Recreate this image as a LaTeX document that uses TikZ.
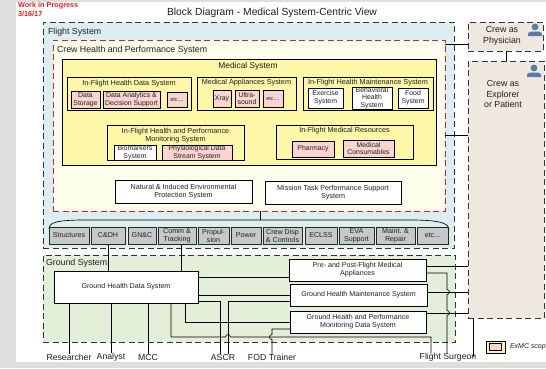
\documentclass[tikz,border=0pt]{standalone}
\usepackage{fontspec}
\setmainfont{Liberation Sans}
\definecolor{bggray}{RGB}{222,222,222}
\definecolor{flightbg}{RGB}{221,238,241}
\definecolor{chpbg}{RGB}{253,253,236}
\definecolor{medbg}{RGB}{253,247,168}
\definecolor{pinkbg}{RGB}{250,212,207}
\definecolor{graybtn}{RGB}{200,200,200}
\definecolor{groundbg}{RGB}{228,239,218}
\definecolor{crewbg}{RGB}{238,232,224}
\definecolor{redd}{RGB}{214,30,50}
\definecolor{iconblue}{RGB}{88,124,165}
\definecolor{wipred}{RGB}{232,30,30}
\newcommand\fsz[2]{\fontsize{#1}{#2}\selectfont}
\newcommand\bx[7]{%
  \pgfmathsetmacro\bxw{#4-#2}%
  \pgfmathsetmacro\bxh{#5-#3}%
  \node[#6,minimum width=\bxw pt,minimum height=\bxh pt] (#1) at ({(#2+#4)/2},{(#3+#5)/2}) {#7};}
\tikzset{
  every node/.style={inner sep=0pt,outer sep=0pt,align=center,text=black!88},
  dashbox/.style={draw=black!80,line width=0.9pt,dash pattern=on 6pt off 3.5pt},
  subbox/.style={draw=black,line width=0.75pt},
  pinkbox/.style={draw=black,line width=0.75pt,fill=pinkbg,font=\fsz{6.9}{7.8}},
  whitebox/.style={draw=black,line width=0.75pt,fill=white,font=\fsz{6.9}{7.8}},
  graybox/.style={draw=black!85,line width=0.75pt,fill=graybtn,font=\fsz{7.1}{8}},
  gbox/.style={draw=black,line width=0.75pt,fill=white,font=\fsz{7.1}{8.2}},
  sublabel/.style={font=\fsz{7.3}{8}},
  biglabel/.style={font=\fsz{8.8}{10},anchor=west},
  extlabel/.style={font=\fsz{8.7}{10}},
  conn/.style={draw=black,line width=0.65pt},
}
\begin{document}
\begin{tikzpicture}[x=1pt,y=-1pt]
\useasboundingbox (0,0) rectangle (546,368);
\fill[bggray] (0,0) rectangle (546,368);
\fill[white] (16,2) rectangle (546,362);

% header
\node[font=\bfseries\fsz{7.3}{9},text=wipred,anchor=north west,align=left] (wip) at (18,2.5) {Work in Progress\\3/16/17};
\node[font=\fsz{10.3}{12}] (title) at (272,13) {Block Diagram - Medical System-Centric View};

% flight system
\bx{flight}{43}{22}{454}{248}{dashbox,fill=flightbg}{}
\node[biglabel] (flightlbl) at (48,32) {Flight System};
\bx{chps}{53}{40}{445}{211}{draw=redd,line width=0.9pt,dash pattern=on 6pt off 3.5pt,fill=chpbg}{}
\node[biglabel] (chpslbl) at (57,50) {Crew Health and Performance System};
\bx{med}{62}{59}{436}{165}{subbox,fill=medbg}{}
\node[font=\fsz{8.4}{10}] (medlbl) at (248,66) {Medical System};

\bx{ifhds}{67}{77}{191}{110}{subbox}{}
\node[sublabel] (ifhdslbl) at (129,84) {In-Flight Health Data System};
\bx{ds}{71}{91}{100}{108}{pinkbox}{Data\\Storage}
\bx{dads}{103}{91}{160}{108}{pinkbox}{Data Analytics \&\\Decision Support}
\bx{etcA}{167}{92}{187}{107}{pinkbox,font=\fsz{5.4}{6}}{etc....}

\bx{mas}{197}{77}{296}{110}{subbox}{}
\node[sublabel] (maslbl) at (246.5,83) {Medical Appliances System};
\bx{xray}{213}{90}{231}{107}{pinkbox}{Xray}
\bx{us}{235}{90}{259}{107}{pinkbox}{Ultra-\\sound}
\bx{etcB}{263}{90}{283}{107}{pinkbox,font=\fsz{5.4}{6}}{etc....}

\bx{ifhms}{303}{77}{433}{110}{subbox}{}
\node[sublabel] (ifhmslbl) at (368,83) {In-Flight Health Maintenance System};
\bx{ex}{308}{88}{343}{108}{whitebox}{Exercise\\System}
\bx{beh}{352}{87}{392}{109}{whitebox,font=\fsz{6.9}{7.3}}{Behavioral\\Health\\System}
\bx{food}{398}{88}{428}{108}{whitebox}{Food\\System}

\bx{ifhpms}{107}{125}{244}{160}{subbox}{}
\node[sublabel] (ifhpmslbl) at (175.5,136) {In-Flight Health and Performance\\Monitoring System};
\bx{bio}{114}{145}{156}{160}{whitebox}{Biomarkers\\System}
\bx{phys}{162}{145}{232}{160}{pinkbox}{Physiological Data\\Stream System}

\bx{ifmr}{276}{125}{413}{159}{subbox}{}
\node[sublabel] (ifmrlbl) at (344.5,131) {In-Flight Medical Resources};
\bx{pharm}{292}{141}{334}{157}{pinkbox}{Pharmacy}
\bx{medc}{343}{140}{394}{157}{pinkbox}{Medical\\Consumables}

\bx{nat}{115}{180}{252}{203}{whitebox,font=\fsz{7.2}{8.2}}{Natural \& Induced Environmental\\Protection System}
\bx{mis}{265}{181}{401}{204}{whitebox,font=\fsz{7.2}{8.2}}{Mission Task Performance Support\\System}

% brace and flight subsystems
\coordinate (bracetop) at (260,220);
\draw[conn] (chps.south -| bracetop) -- (bracetop);
\draw[conn] (49,229) .. controls (49,222) and (58,220.5) .. (80,220) -- (415,220) .. controls (440,220.5) and (449,223) .. (449,230);

\bx{structures}{49}{227}{89}{244}{graybox}{Structures}
\bx{cdh}{91}{227}{125}{244}{graybox}{C\&DH}
\bx{gnc}{128}{227}{156}{244}{graybox}{GN\&C}
\bx{comm}{158}{227}{196}{244}{graybox}{Comm \&\\Tracking}
\bx{prop}{198}{227}{229}{244}{graybox}{Propul-\\sion}
\bx{power}{231}{227}{261}{244}{graybox}{Power}
\bx{crewdisp}{263}{227}{302}{244}{graybox}{Crew Disp\\\& Controls}
\bx{eclss}{305}{227}{337}{244}{graybox}{ECLSS}
\bx{eva}{339}{227}{374}{244}{graybox}{EVA\\Support}
\bx{maint}{376}{227}{415}{244}{graybox}{Maint. \&\\Repair}
\bx{etcC}{417}{227}{448}{244}{graybox}{etc...}

% ground system
\bx{ground}{43}{255}{455}{342}{dashbox,fill=groundbg}{}
\node[biglabel] (groundlbl) at (46,263) {Ground System};
\bx{ghds}{54}{271}{198}{303}{gbox}{Ground Health Data System}
\bx{pre}{289}{259}{426}{281}{gbox}{Pre- and Post-Flight Medical\\Appliances}
\bx{ghms}{290}{284}{427}{306}{gbox}{Ground Health Maintenance System}
\bx{ghpm}{290}{311}{426}{333}{gbox}{Ground Health and Performance\\Monitoring Data System}

% crew
\bx{crewphy}{468}{22}{543}{51}{dashbox,fill=crewbg,font=\fsz{8.8}{11.5}}{}
\node[font=\fsz{8.8}{11.5}] (crewphylbl) at (502,36) {Crew as\\Physician};
\bx{crewexp}{468}{61}{544}{318}{dashbox,fill=crewbg}{}
\node[font=\fsz{8.8}{10.5}] (crewexplbl) at (503,94) {Crew as\\Explorer\\or Patient};
\fill[iconblue] (535,27) circle (3.4pt);
\fill[iconblue] (528,36) -- (528,34.5) .. controls (528,31.5) and (531,31.5) .. (535,31.5) .. controls (539,31.5) and (542,31.5) .. (542,34.5) -- (542,36) -- cycle;
\fill[iconblue] (534,68) circle (3.4pt);
\fill[iconblue] (527,77) -- (527,75.5) .. controls (527,72.5) and (530,72.5) .. (534,72.5) .. controls (538,72.5) and (541,72.5) .. (541,75.5) -- (541,77) -- cycle;

% bottom labels
\node[extlabel] (res) at (69,357.5) {Researcher};
\node[extlabel] (ana) at (111,357) {Analyst};
\node[extlabel] (mcc) at (148,357) {MCC};
\node[extlabel] (ascr) at (223,357) {ASCR};
\node[extlabel] (fod) at (272,357) {FOD Trainer};
\node[extlabel] (fs) at (448,357.5) {Flight Surgeon};
\coordinate (fsend) at (473,357);

% connectors
\draw[conn] (chps.east |- 0,44) -- (crewphy.west |- 0,44);
\draw[conn] (crewphy.south -| 506,0) -- (crewexp.north -| 506,0);
\draw[conn] (chps.east |- 0,135) -- (crewexp.west |- 0,135);
\draw[conn] (cdh.south) -- (cdh.south |- ghds.north);
\draw[conn] ([xshift=4pt]comm.south) -- ([xshift=4pt]comm.south |- ghds.north);
\draw[conn] (ghds.east |- 0,277) -- (pre.west |- 0,277);
\draw[conn] (ghds.east |- 0,295) -- (ghms.west |- 0,295);
\draw[conn] (ghds.east |- 0,301) -| ([xshift=-3pt]ascr.north);
\draw[conn] (ghms.west |- 0,301) -| ([xshift=5pt]ascr.north);
\draw[conn] (ghds.south -| res.north) -- (res.north);
\draw[conn] (ghds.south -| ana.north) -- (ana.north);
\draw[conn] (ghds.south -| mcc.north) -- (mcc.north);
\draw[conn] (ghds.south -| 185,0) |- (ghpm.west |- 0,322);
\draw[conn] (ghds.south -| 171,0) -- (171,337) -- (225.5,337) arc[start angle=180,end angle=0,radius=2.5pt] -- (431,337) -- (fs.north -| 431,0);
\draw[conn] (ghpm.west |- 0,329) -- (272,329) -- (272,334.5) arc[start angle=90,end angle=270,radius=2.5pt] -- (fod.north);
\draw[conn] (pre.east |- 0,266) -- (crewexp.west |- 0,266);
\draw[conn] (ghms.east |- 0,292) -- (crewexp.west |- 0,292);
\draw[conn] (ghpm.east |- 0,313) -- (crewexp.west |- 0,313);
\draw[conn] (pre.east |- 0,273) -- (447,273) -- (447,289.5) arc[start angle=90,end angle=-90,radius=2.5pt] -- (447,310.5) arc[start angle=90,end angle=-90,radius=2.5pt] -- (fs.north -| 447,0);
\draw[conn] (crewexp.south -| fsend) -- (fsend);

% legend
\node[draw=black,line width=0.8pt,fill=medbg,minimum width=19pt,minimum height=12pt] (leg) at (495.5,347) {};
\node[draw=black,line width=0.6pt,fill=pinkbg,minimum width=12pt,minimum height=7pt] (legin) at (leg) {};
\node[anchor=west,font=\itshape\fsz{7}{8}] (legtxt) at (510,347) {ExMC scope};
\end{tikzpicture}
\end{document}
